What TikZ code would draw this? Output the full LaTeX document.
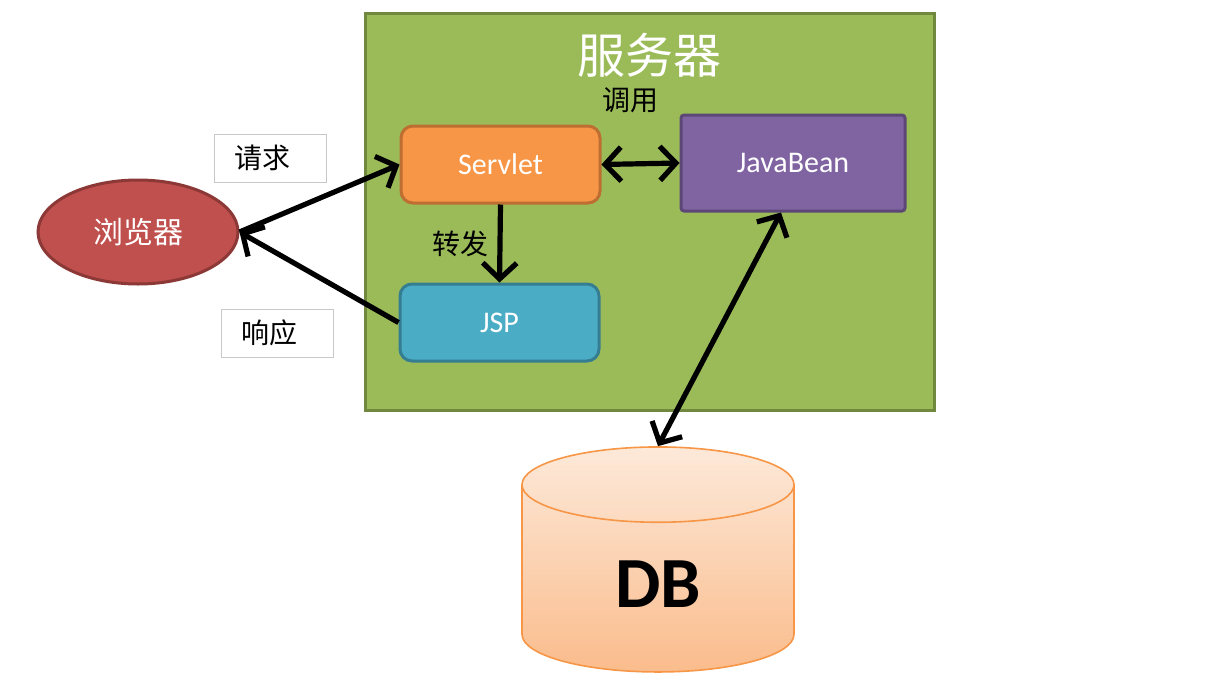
\documentclass[tikz,border=0pt]{standalone}
\usepackage{fontspec}
\setmainfont{Carlito}
\newfontfamily\cjk{Noto Sans CJK SC}
\usetikzlibrary{shapes.geometric, arrows.meta, positioning, calc}

\begin{document}
\begin{tikzpicture}[
    x=0.5pt, y=-0.5pt,
    font=\cjk,
    >={Straight Barb[length=8pt, width=17pt]},
    % Define colors
    /utils/exec={
        \definecolor{srvGreen}{RGB}{155, 187, 89}
        \definecolor{srvGreenDark}{RGB}{113, 137, 63}
        \definecolor{servOrange}{RGB}{247, 150, 70}
        \definecolor{servOrangeDark}{RGB}{190, 110, 50}
        \definecolor{jspBlue}{RGB}{75, 172, 198}
        \definecolor{jspBlueDark}{RGB}{53, 125, 145}
        \definecolor{beanPurple}{RGB}{128, 100, 162}
        \definecolor{beanPurpleDark}{RGB}{92, 71, 118}
        \definecolor{browserRed}{RGB}{192, 80, 77}
        \definecolor{browserRedDark}{RGB}{140, 56, 54}
        \definecolor{dbTop}{RGB}{253, 233, 217}
        \definecolor{dbBottom}{RGB}{250, 188, 140}
        \definecolor{dbBorder}{RGB}{247, 150, 70}
        \definecolor{tagGrey}{RGB}{200, 200, 200}
    },
    % Node Styles
    comp/.style={
        draw, line width=1.5pt, rounded corners=6pt,
        minimum width=99.5pt, minimum height=38.5pt,
        text=white, font=\rmfamily\fontsize{15}{17}\selectfont
    },
    servlet/.style={comp, fill=servOrange, draw=servOrangeDark},
    jsp/.style={comp, fill=jspBlue, draw=jspBlueDark},
    bean/.style={comp, fill=beanPurple, draw=beanPurpleDark, rounded corners=1.5pt,
        minimum width=112pt, minimum height=48pt},
    tag/.style={
        draw=tagGrey, fill=white, thin,
        minimum width=56pt, minimum height=24pt,
        font=\cjk\fontsize{14}{16}\selectfont
    },
    note/.style={font=\cjk\fontsize{14}{16}\selectfont},
    conn/.style={->, line width=2.6pt, black},
    biconn/.style={conn, <->}
]

\fill[white] (0,0) rectangle (1222,681);
\useasboundingbox (0,0) rectangle (1222,681);

% =================================================================
% SERVER
% =================================================================

% --- Container ---
\node[draw=srvGreenDark, fill=srvGreen, line width=1.5pt,
      minimum width=284.5pt, minimum height=198.5pt] (server) at (649.5, 211.5) {};
\node[text=white, font=\cjk\fontsize{24}{28}\selectfont] (srvTitle) at (649, 55) {服务器};

% --- Components ---
\node[servlet] (servlet) at (500.5, 164.5) {Servlet};
\node[jsp] (jsp) at (499.5, 322.5) {JSP};
\node[bean] (bean) at (793, 163) {JavaBean};

% --- Inner connections ---
\draw[biconn] (servlet.east) -- (bean.west);
\node[note] (callLabel) at (630, 100) {调用};

\draw[conn] (servlet.south) -- node[note, left=1pt, pos=0.5] (fwdLabel) {转发} (jsp.north);

% =================================================================
% BROWSER
% =================================================================
\node[ellipse, draw=browserRedDark, fill=browserRed, line width=1.5pt,
      minimum width=100pt, minimum height=52pt, inner sep=0pt,
      text=white, font=\cjk\fontsize{15}{17}\selectfont] (browser) at (138, 232) {浏览器};

% --- Request / response tags ---
\node[tag] (reqTag) at (270, 158) {请求\kern8pt};
\node[tag] (respTag) at (277, 333) {响应\kern8pt};

\draw[conn] (browser.east) -- (servlet.west);
\draw[conn] (jsp.west) -- (browser.east);

% =================================================================
% DATABASE
% =================================================================
\node[cylinder, shape border rotate=90, aspect=0.76, draw=dbBorder, thick,
      top color=dbTop, bottom color=dbBottom,
      minimum width=136pt, minimum height=112.5pt,
      text=black, font=\rmfamily\bfseries\fontsize{36}{40}\selectfont] (db) at (658, 584.5) {DB};

\draw[biconn] (bean.south) ++(-6pt, 0) coordinate (beanFoot) (beanFoot) -- (db.north);

\end{tikzpicture}
\end{document}
